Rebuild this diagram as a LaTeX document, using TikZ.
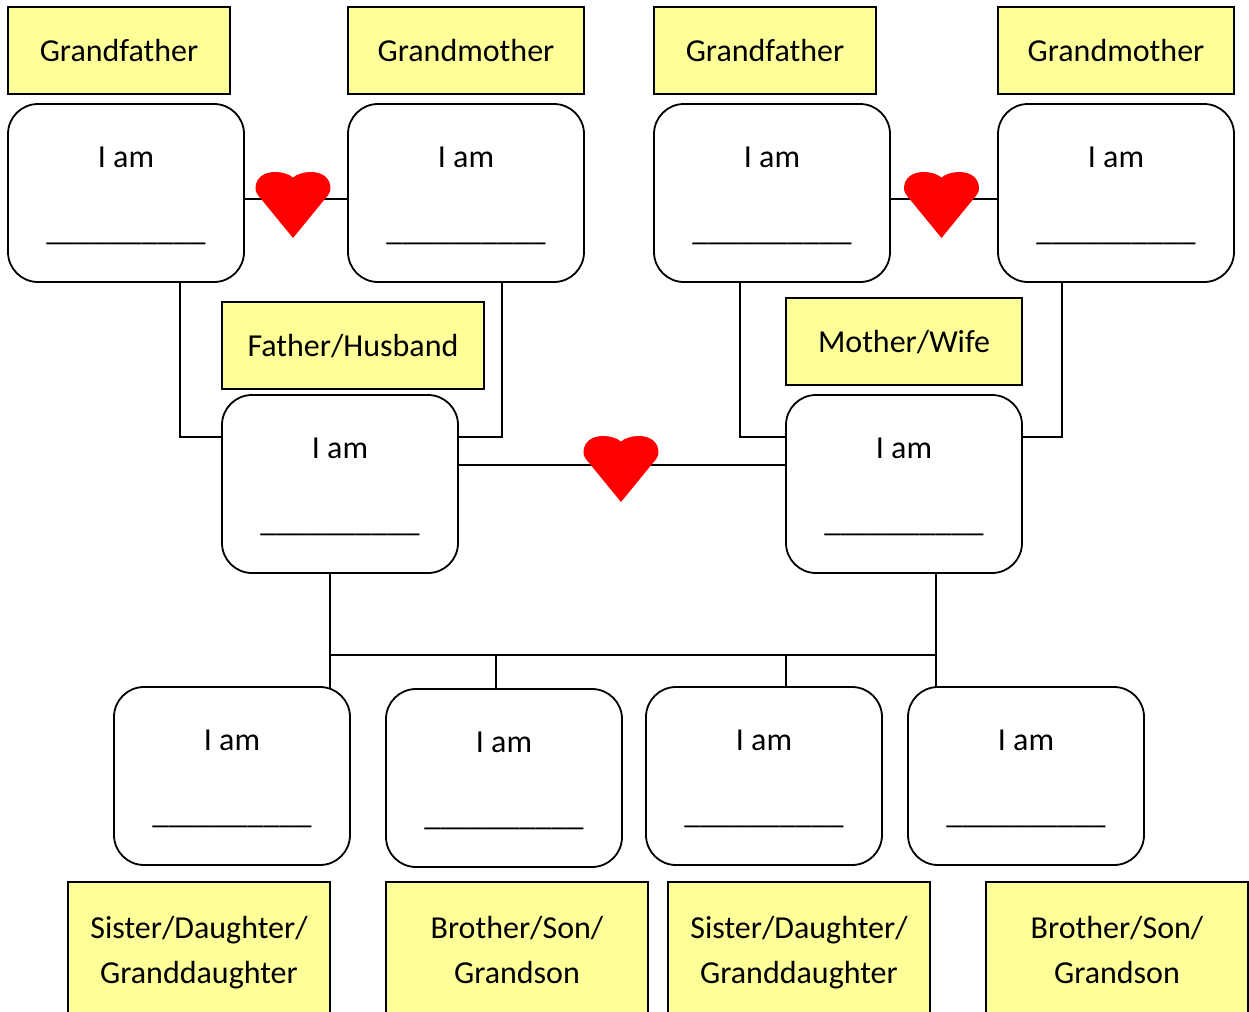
\documentclass[tikz,border=0pt]{standalone}
\usepackage{fontspec}
\setmainfont{Carlito}
\usetikzlibrary{positioning, calc, backgrounds}
\definecolor{notepad}{HTML}{FFFF99}
\newcommand{\iamtext}{\rule{0pt}{13pt}I am\\[17.25pt]\_\_\_\_\_\_\_\_\_\_}

\begin{document}
\begin{tikzpicture}[
    person/.style={rectangle, draw, fill=white, line width=0.9pt, rounded corners=15pt, outer sep=0pt,
        minimum width=118pt, minimum height=89pt, inner sep=0pt, align=center, font=\fontsize{16}{19.5}\selectfont},
    tag/.style={rectangle, draw, fill=notepad, line width=0.9pt, outer sep=0pt, inner sep=0pt, text depth=0pt,
        minimum width=118pt, minimum height=43.5pt, align=center, font=\fontsize{16}{22.5}\selectfont},
    kidtag/.style={tag, minimum width=131pt, minimum height=68pt},
    line/.style={line width=0.9pt},
    heart/.style={minimum width=37.5pt, minimum height=33pt, inner sep=0pt, outer sep=0pt, path picture={
        \fill[red, shift={(path picture bounding box.center)}] (0,-16.5pt) -- (-15.6pt,2.6pt)
            .. controls (-17.8pt,5pt) and (-18.75pt,6.5pt) .. (-18.75pt,8.4pt)
            .. controls (-18.75pt,13.5pt) and (-14.5pt,16.5pt) .. (-9pt,16.5pt)
            .. controls (-5.5pt,16.5pt) and (-2pt,15.5pt) .. (0,13.7pt)
            .. controls (2pt,15.5pt) and (5.5pt,16.5pt) .. (9pt,16.5pt)
            .. controls (14.5pt,16.5pt) and (18.75pt,13.5pt) .. (18.75pt,8.4pt)
            .. controls (18.75pt,6.5pt) and (17.8pt,5pt) .. (15.6pt,2.6pt) -- cycle;}}
]
\useasboundingbox (0,0) rectangle (624.5pt,-506pt);

% grandparents
\node[person, anchor=north west] (gfa) at (4pt,-52pt) {\iamtext};
\node[person, right=52pt of gfa] (gma) {\iamtext};
\node[person, right=35pt of gma] (gfb) {\iamtext};
\node[person, right=54pt of gfb] (gmb) {\iamtext};

% parents
\node[person, below right=56.5pt and -11pt of gfa] (father) {\iamtext};
\node[person, below right=56.5pt and -52pt of gfb] (mother) {\iamtext};

% children
\node[person, below left=57pt and -64pt of father] (kida) {\iamtext};
\node[person, right=18pt of kida, yshift=-1pt] (kidb) {\iamtext};
\node[person, right=12pt of kidb, yshift=1pt] (kidc) {\iamtext};
\node[person, right=13pt of kidc] (kidd) {\iamtext};

% yellow labels
\node[tag, minimum width=111pt, above right=5pt and 0pt of gfa.north west] (tgfa) {Grandfather};
\node[tag, above right=5pt and 0pt of gma.north west] (tgma) {Grandmother};
\node[tag, minimum width=111pt, above right=5pt and 0pt of gfb.north west] (tgfb) {Grandfather};
\node[tag, above right=5pt and 0pt of gmb.north west] (tgmb) {Grandmother};
\node[tag, minimum width=131pt, above right=3pt and 0pt of father.north west] (tfather) {Father/Husband};
\node[tag, above right=5pt and 0pt of mother.north west] (tmother) {Mother/Wife};
\node[kidtag, below right=8.5pt and -23pt of kida.south west] (tkida) {Sister/Daughter/\\Granddaughter};
\node[kidtag, below right=7.5pt and 0pt of kidb.south west] (tkidb) {Brother/Son/\\Grandson};
\node[kidtag, below right=8.5pt and 11pt of kidc.south west] (tkidc) {Sister/Daughter/\\Granddaughter};
\node[kidtag, below right=8.5pt and 39pt of kidd.south west] (tkidd) {Brother/Son/\\Grandson};

% connectors
\begin{scope}[on background layer]
\draw[line] ([yshift=-3pt]gfa.east) -- ([yshift=-3pt]gma.west);
\draw[line] ([yshift=-3pt]gfb.east) -- ([yshift=-3pt]gmb.west);
\draw[line] ([yshift=9.5pt]father.east) -- ([yshift=9.5pt]mother.west);
\draw[line] ([xshift=86pt]gfa.south west) |- ([yshift=-21pt]father.north west);
\draw[line] ([xshift=77pt]gma.south west) |- ([yshift=-21pt]father.north east);
\draw[line] ([xshift=43pt]gfb.south west) |- ([yshift=-21pt]mother.north west);
\draw[line] ([xshift=32pt]gmb.south west) |- ([yshift=-21pt]mother.north east);
\coordinate (busa) at ($(father.south west)+(54pt,-41pt)$);
\coordinate (busb) at ($(mother.south west)+(75pt,-41pt)$);
\coordinate (ticka) at ([xshift=55pt]kidb.north west);
\coordinate (tickb) at ([xshift=70pt]kidc.north west);
\draw[line] ([xshift=54pt]father.south west) -- (busa) -- ([xshift=-10pt,yshift=-3pt]kida.north east);
\draw[line] ([xshift=75pt]mother.south west) -- (busb) -- ([xshift=14pt,yshift=-3pt]kidd.north west);
\draw[line] (busa) -- (busb);
\draw[line] (ticka) -- (ticka |- busa);
\draw[line] (tickb) -- (tickb |- busa);
\end{scope}

% hearts
\node[heart, xshift=24.5pt, yshift=-6pt] (lovea) at (gfa.east) {};
\node[heart, xshift=25.75pt, yshift=-6pt] (loveb) at (gfb.east) {};
\node[heart, xshift=-0.5pt, yshift=7.5pt] (lovec) at ($(father.east)!.5!(mother.west)$) {};

\end{tikzpicture}
\end{document}
